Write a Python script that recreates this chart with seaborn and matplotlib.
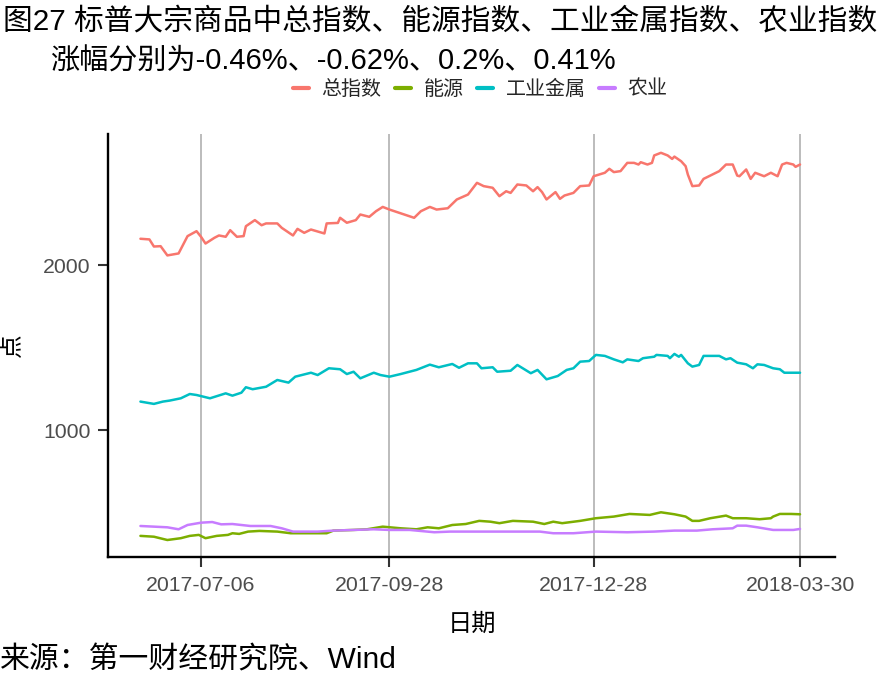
import matplotlib
matplotlib.use("Agg")
import matplotlib.pyplot as plt
import matplotlib.dates as mdates
import seaborn as sns
import pandas as pd

# ---------------- data ----------------
series_names = ["总指数", "能源", "工业金属", "农业"]

total_dates = [
    "2017-06-09", "2017-06-13", "2017-06-15", "2017-06-18", "2017-06-21", "2017-06-26",
    "2017-06-30", "2017-07-04", "2017-07-06", "2017-07-08", "2017-07-12", "2017-07-14",
    "2017-07-17", "2017-07-19", "2017-07-22", "2017-07-25", "2017-07-26", "2017-07-30",
    "2017-08-02", "2017-08-04", "2017-08-09", "2017-08-11", "2017-08-16", "2017-08-18",
    "2017-08-21", "2017-08-24", "2017-08-30", "2017-08-31", "2017-09-05", "2017-09-06",
    "2017-09-09", "2017-09-13", "2017-09-15", "2017-09-19", "2017-09-22", "2017-09-25",
    "2017-09-28", "2017-10-09", "2017-10-12", "2017-10-16", "2017-10-19", "2017-10-24",
    "2017-10-28", "2017-11-02", "2017-11-06", "2017-11-09", "2017-11-13", "2017-11-16",
    "2017-11-19", "2017-11-21", "2017-11-24", "2017-11-28", "2017-12-01", "2017-12-03",
    "2017-12-05", "2017-12-07", "2017-12-11", "2017-12-13", "2017-12-15", "2017-12-19",
    "2017-12-22", "2017-12-26", "2017-12-28", "2018-01-02", "2018-01-04", "2018-01-06",
    "2018-01-09", "2018-01-12", "2018-01-15", "2018-01-17", "2018-01-18", "2018-01-21",
    "2018-01-23", "2018-01-24", "2018-01-27", "2018-01-30", "2018-02-01", "2018-02-02",
    "2018-02-05", "2018-02-07", "2018-02-08", "2018-02-10", "2018-02-13", "2018-02-15",
    "2018-02-18", "2018-02-22", "2018-02-25", "2018-02-28", "2018-03-02", "2018-03-03",
    "2018-03-06", "2018-03-08", "2018-03-10", "2018-03-14", "2018-03-17", "2018-03-20",
    "2018-03-22", "2018-03-24", "2018-03-27", "2018-03-28", "2018-03-30",
]
total_values = [
    2162, 2158, 2115, 2117, 2061, 2073,
    2178, 2208, 2174, 2133, 2168, 2182,
    2174, 2214, 2174, 2178, 2238, 2275,
    2244, 2255, 2255, 2228, 2182, 2222,
    2198, 2218, 2194, 2255, 2258, 2289,
    2259, 2275, 2309, 2295, 2329, 2355,
    2339, 2289, 2329, 2355, 2339, 2347,
    2400, 2430, 2501, 2481, 2471, 2420,
    2450, 2440, 2491, 2485, 2450, 2475,
    2445, 2400, 2445, 2404, 2424, 2440,
    2481, 2485, 2541, 2562, 2586, 2566,
    2572, 2622, 2622, 2612, 2626, 2612,
    2622, 2667, 2683, 2667, 2646, 2660,
    2632, 2602, 2551, 2481, 2485, 2525,
    2545, 2572, 2612, 2612, 2545, 2541,
    2582, 2525, 2562, 2541, 2562, 2541,
    2612, 2622, 2612, 2598, 2612,
]

metal_dates = [
    "2017-06-09", "2017-06-15", "2017-06-19", "2017-06-22", "2017-06-27", "2017-07-01",
    "2017-07-04", "2017-07-10", "2017-07-17", "2017-07-20", "2017-07-24", "2017-07-26",
    "2017-07-29", "2017-08-04", "2017-08-09", "2017-08-14", "2017-08-17", "2017-08-24",
    "2017-08-27", "2017-09-01", "2017-09-06", "2017-09-09", "2017-09-12", "2017-09-15",
    "2017-09-21", "2017-09-24", "2017-09-28", "2017-10-03", "2017-10-10", "2017-10-16",
    "2017-10-20", "2017-10-26", "2017-10-29", "2017-11-02", "2017-11-06", "2017-11-08",
    "2017-11-13", "2017-11-15", "2017-11-21", "2017-11-24", "2017-11-30", "2017-12-03",
    "2017-12-07", "2017-12-12", "2017-12-16", "2017-12-19", "2017-12-22", "2017-12-26",
    "2017-12-29", "2018-01-02", "2018-01-06", "2018-01-10", "2018-01-12", "2018-01-17",
    "2018-01-19", "2018-01-24", "2018-01-25", "2018-01-30", "2018-01-31", "2018-02-02",
    "2018-02-04", "2018-02-05", "2018-02-08", "2018-02-10", "2018-02-13", "2018-02-15",
    "2018-02-22", "2018-02-25", "2018-02-27", "2018-03-02", "2018-03-06", "2018-03-09",
    "2018-03-11", "2018-03-14", "2018-03-18", "2018-03-21", "2018-03-23", "2018-03-30",
]
metal_values = [
    1175, 1161, 1175, 1181, 1195, 1221,
    1215, 1195, 1225, 1211, 1229, 1262,
    1250, 1265, 1306, 1290, 1326, 1350,
    1336, 1377, 1371, 1342, 1356, 1316,
    1350, 1336, 1326, 1342, 1367, 1399,
    1383, 1403, 1380, 1407, 1407, 1377,
    1383, 1356, 1362, 1397, 1347, 1367,
    1310, 1330, 1367, 1377, 1417, 1421,
    1458, 1452, 1431, 1413, 1431, 1421,
    1438, 1447, 1458, 1452, 1438, 1464,
    1447, 1458, 1407, 1387, 1397, 1452,
    1452, 1431, 1438, 1411, 1401, 1377,
    1401, 1397, 1377, 1371, 1350, 1350,
]

energy_dates = [
    "2017-06-09", "2017-06-15", "2017-06-21", "2017-06-27", "2017-07-01", "2017-07-05",
    "2017-07-08", "2017-07-13", "2017-07-18", "2017-07-20", "2017-07-23", "2017-07-27",
    "2017-08-01", "2017-08-09", "2017-08-15", "2017-08-22", "2017-08-31", "2017-09-03",
    "2017-09-12", "2017-09-18", "2017-09-25", "2017-10-03", "2017-10-10", "2017-10-15",
    "2017-10-20", "2017-10-26", "2017-11-01", "2017-11-07", "2017-11-12", "2017-11-16",
    "2017-11-22", "2017-12-01", "2017-12-06", "2017-12-10", "2017-12-14", "2017-12-22",
    "2017-12-29", "2018-01-06", "2018-01-13", "2018-01-22", "2018-01-27", "2018-02-02",
    "2018-02-07", "2018-02-10", "2018-02-13", "2018-02-18", "2018-02-25", "2018-02-28",
    "2018-03-06", "2018-03-12", "2018-03-17", "2018-03-18", "2018-03-21", "2018-03-26",
    "2018-03-30",
]
energy_values = [
    361, 356, 336, 347, 361, 367,
    347, 361, 367, 377, 373, 387,
    391, 387, 377, 377, 377, 393,
    397, 401, 417, 407, 401, 413,
    407, 427, 433, 452, 447, 438,
    452, 447, 433, 447, 438, 452,
    468, 478, 494, 488, 504, 492,
    478, 452, 452, 468, 484, 468,
    468, 462, 468, 478, 494, 494,
    492,
]

agri_dates = [
    "2017-06-09", "2017-06-21", "2017-06-26", "2017-06-30", "2017-07-06", "2017-07-11",
    "2017-07-15", "2017-07-20", "2017-07-28", "2017-08-06", "2017-08-11", "2017-08-16",
    "2017-08-27", "2017-09-03", "2017-09-12", "2017-09-21", "2017-09-28", "2017-10-07",
    "2017-10-18", "2017-10-25", "2017-12-04", "2017-12-10", "2017-12-19", "2017-12-29",
    "2018-01-12", "2018-01-24", "2018-02-02", "2018-02-12", "2018-02-19", "2018-02-28",
    "2018-03-02", "2018-03-06", "2018-03-11", "2018-03-18", "2018-03-27", "2018-03-30",
]
agri_values = [
    421, 413, 401, 427, 441, 445,
    431, 433, 421, 421, 407, 387,
    387, 393, 397, 401, 397, 397,
    383, 387, 387, 377, 377, 387,
    383, 387, 393, 393, 401, 407,
    423, 423, 413, 397, 397, 403,
]

x_tick_dates = ["2017-07-06", "2017-09-28", "2017-12-28", "2018-03-30"]
y_ticks = [1000, 2000]

title_line1 = "图27 标普大宗商品中总指数、能源指数、工业金属指数、农业指数"
title_line2 = "涨幅分别为-0.46%、-0.62%、0.2%、0.41%"
caption = "来源：第一财经研究院、Wind"
x_label = "日期"
y_label = "点"

palette = ["#F8766D", "#7CAE00", "#00BFC4", "#C77CFF"]

# ---------------- build table ----------------
frames = []
for name, d, v in zip(series_names,
                      [total_dates, energy_dates, metal_dates, agri_dates],
                      [total_values, energy_values, metal_values, agri_values]):
    frames.append(pd.DataFrame({"date": pd.to_datetime(d), "value": v, "series": name}))
df = pd.concat(frames, ignore_index=True)

# ---------------- style ----------------
sns.set_theme(style="white")
plt.rcParams["font.family"] = ["Liberation Sans", "Noto Sans CJK SC", "DejaVu Sans"]

W, H = 885, 688
fig = plt.figure(figsize=(W / 100, H / 100), dpi=100)
ax = fig.add_axes([108 / W, (H - 557) / H, (835 - 108) / W, (557 - 134) / H])

sns.lineplot(data=df, x="date", y="value", hue="series", hue_order=series_names,
             palette=palette, linewidth=1.8, estimator=None, sort=True, ax=ax)

ax.set_xlim(pd.Timestamp("2017-05-25 13:00"), pd.Timestamp("2018-04-14 14:00"))
ax.set_ylim(233, 2797)
ax.set_xticks(pd.to_datetime(x_tick_dates))
ax.xaxis.set_major_formatter(mdates.DateFormatter("%Y-%m-%d"))
ax.set_yticks(y_ticks)

ax.set_axisbelow(True)
ax.grid(False)
ax.xaxis.grid(True, color="#aaaaaa", linewidth=1.1)

for s in ["top", "right"]:
    ax.spines[s].set_visible(False)
for s in ["left", "bottom"]:
    ax.spines[s].set_color("black")
    ax.spines[s].set_linewidth(1.7)

ax.tick_params(axis="both", which="major", bottom=True, left=True, direction="out",
               length=7.5, width=1.5, color="#333333", labelsize=15.3,
               labelcolor="#4d4d4d")
ax.tick_params(axis="x", pad=6)
ax.tick_params(axis="y", pad=5)

ax.set_xlabel("")
ax.set_ylabel("")

# legend on top
handles, labels = ax.get_legend_handles_labels()
if ax.get_legend() is not None:
    ax.get_legend().remove()
leg = fig.legend(handles, labels, loc="center", bbox_to_anchor=(480 / W, 1 - 89 / H),
                 ncol=4, frameon=False, fontsize=14.4, handlelength=0.8,
                 handletextpad=0.65, columnspacing=0.65, borderpad=0, borderaxespad=0)
for ln in leg.get_lines():
    ln.set_linewidth(3)

# texts
fig.text(3 / W, 1 - 22 / H, title_line1, ha="left", va="center", fontsize=21.4, color="black")
fig.text(50 / W, 1 - 62 / H, title_line2, ha="left", va="center", fontsize=21, color="black")
fig.text(472 / W, 1 - 625 / H, x_label, ha="center", va="center", fontsize=17.5, color="black")
fig.text(12 / W, 1 - 345 / H, y_label, ha="center", va="center", rotation=90, fontsize=17, color="black")
fig.text(0 / W, 1 - 660 / H, caption, ha="left", va="center", fontsize=21.5, color="black")

fig.savefig("out.png", dpi=100)
